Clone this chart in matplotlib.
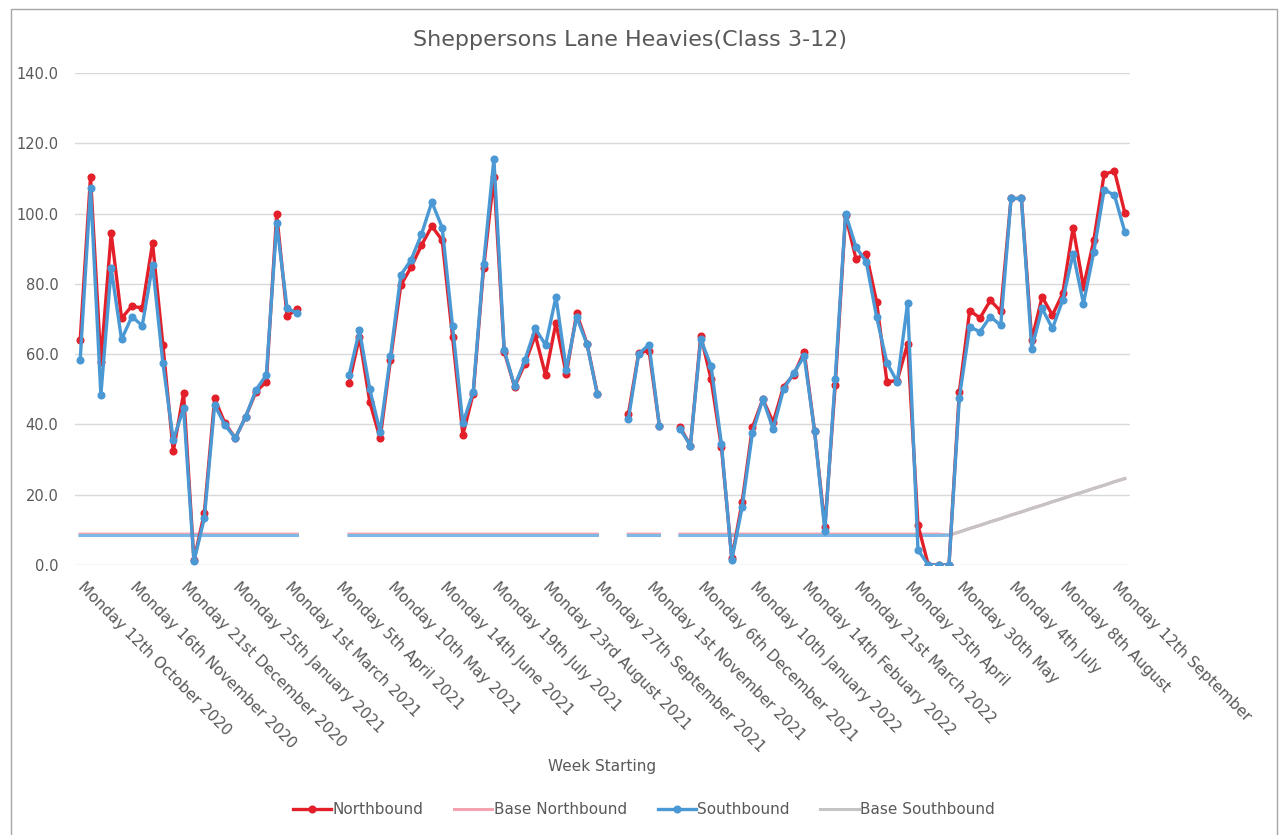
import numpy as np
import matplotlib
matplotlib.use('Agg')
import matplotlib.pyplot as plt
from matplotlib.patches import Rectangle

# weekly categories, week 0 = Monday 12th October 2020, 102 weeks
weeks = np.arange(102)
tick_labels = ['Monday 12th October 2020', 'Monday 16th November 2020', 'Monday 21st December 2020',
               'Monday 25th January 2021', 'Monday 1st March 2021', 'Monday 5th April 2021',
               'Monday 10th May 2021', 'Monday 14th June 2021', 'Monday 19th July 2021',
               'Monday 23rd August 2021', 'Monday 27th September 2021', 'Monday 1st November 2021',
               'Monday 6th December 2021', 'Monday 10th January 2022', 'Monday 14th Febuary 2022',
               'Monday 21st March 2022', 'Monday 25th April', 'Monday 30th May', 'Monday 4th July',
               'Monday 8th August', 'Monday 12th September']

nan = np.nan
# weeks 0-21
north_1 = [64.0, 110.5, 57.9, 94.4, 70.2, 73.7, 73.1, 91.6, 62.6, 32.3, 48.9, 1.3,
           14.7, 47.4, 40.3, 36.1, 42.2, 49.3, 52.2, 99.9, 70.9, 72.8]
south_1 = [58.3, 107.2, 48.4, 84.4, 64.2, 70.7, 68.1, 85.4, 57.4, 35.6, 44.6, 1.0,
           13.3, 45.5, 39.8, 36.1, 42.2, 49.8, 54.1, 97.2, 73.1, 71.6]
# weeks 26-50
north_2 = [51.8, 64.9, 46.4, 36.0, 58.3, 79.6, 84.8, 91.0, 96.4, 92.4, 64.9, 37.0, 48.8,
           84.4, 110.4, 60.7, 50.7, 57.3, 65.4, 54.0, 68.9, 54.3, 71.6, 63.0, 48.8]
south_2 = [54.0, 66.8, 50.0, 37.9, 59.4, 82.5, 86.9, 94.1, 103.3, 96.0, 68.0, 40.3, 49.3,
           85.6, 115.6, 61.1, 50.9, 58.3, 67.3, 62.6, 76.3, 55.6, 70.6, 62.8, 48.6]
# weeks 53-56
north_3 = [42.9, 60.4, 61.0, 39.6]
south_3 = [41.5, 60.1, 62.7, 39.6]
# weeks 58-101
north_4 = [39.2, 34.0, 65.3, 52.8, 33.5, 1.9, 17.9, 39.2, 47.2, 40.6, 50.7, 54.2, 60.7,
           38.2, 10.9, 51.2, 99.5, 87.2, 88.6, 74.9, 52.1, 52.5, 63.0, 11.4, 0.0, 0.0, 0.0,
           49.3, 72.4, 70.3, 75.3, 72.2, 104.3, 104.3, 64.0, 76.3, 71.1, 77.3, 96.0, 79.1,
           92.4, 111.2, 112.1, 100.2]
south_4 = [38.7, 34.0, 64.2, 56.6, 34.4, 1.4, 16.5, 37.7, 47.2, 38.7, 50.0, 54.7, 59.4,
           38.2, 9.6, 53.0, 100.0, 90.5, 86.3, 70.6, 57.5, 52.1, 74.6, 4.3, 0.0, 0.0, 0.0,
           47.6, 67.7, 66.4, 70.7, 68.2, 104.3, 104.3, 61.6, 73.0, 67.3, 75.4, 88.6, 74.4,
           89.1, 106.8, 105.2, 94.8]

# base lines
base_north_flat = 8.8
base_south_flat = 8.4
base_rise = [8.5, 9.4, 10.4, 11.3, 12.3, 13.2, 14.2, 15.1, 16.1, 17.0, 18.0, 18.9,
             19.9, 20.8, 21.8, 22.7, 23.7, 24.6]  # weeks 84-101

gap = [nan] * 4
northbound = np.array(north_1 + gap + north_2 + [nan, nan] + north_3 + [nan] + north_4)
southbound = np.array(south_1 + gap + south_2 + [nan, nan] + south_3 + [nan] + south_4)

have = ~np.isnan(northbound)
base_north = np.where(have, base_north_flat, nan)
base_south = np.where(have, base_south_flat, nan)
base_north[84:] = base_rise
base_south[84:] = base_rise
base_south_flat_part = base_south.copy()
base_south_flat_part[85:] = nan

txt = '#595959'
plt.rcParams['font.family'] = ['DejaVu Sans']

fig = plt.figure(figsize=(12.81, 8.35), dpi=100)
ax = fig.add_axes([75/1281, 1-565/835, 1055/1281, 492/835])

ax.plot(weeks, base_north, color='#F4A3B0', lw=2.2, label='Base Northbound', zorder=2)
ax.plot(weeks, base_south, color='#C4C4C4', lw=2.2, label='Base Southbound', zorder=2)
ax.plot(weeks, base_south_flat_part, color='#7DB8E6', lw=2.2, zorder=2)
ax.plot(weeks, northbound, color='#E3202A', lw=2.4, marker='o', ms=4.8,
        label='Northbound', zorder=3)
ax.plot(weeks, southbound, color='#4A98D4', lw=2.4, marker='o', ms=4.8,
        label='Southbound', zorder=4)

ax.set_xlim(-0.5, 101.5)
ax.set_ylim(0, 140)
ax.set_yticks(np.arange(0, 141, 20))
ax.set_yticklabels(['%.1f' % v for v in np.arange(0, 141, 20)], color=txt, fontsize=10.5)
ax.set_xticks(np.arange(0, 101, 5))
ax.set_xticklabels(tick_labels, rotation=-45, rotation_mode='anchor', ha='left', va='center',
                   color=txt, fontsize=11)
ax.tick_params(axis='both', length=0)
ax.tick_params(axis='x', pad=14)
ax.tick_params(axis='y', pad=12)
ax.grid(axis='y', color='#D9D9D9', lw=1)
ax.set_axisbelow(True)
for s in ax.spines.values():
    s.set_visible(False)

fig.text(630/1281, 1-40/835, 'Sheppersons Lane Heavies(Class 3-12)', color=txt, fontsize=16,
         ha='center', va='center')
fig.text(602/1281, 1-767/835, 'Week Starting', color=txt, fontsize=11, ha='center', va='center')

h, l = ax.get_legend_handles_labels()
order = [2, 0, 3, 1]
fig.legend([h[i] for i in order], [l[i] for i in order], loc='center', ncol=4,
           bbox_to_anchor=(644/1281, 1-810/835), frameon=False, fontsize=11,
           labelcolor=txt, handlelength=2.5, columnspacing=2.0, handletextpad=0.1)

fig.patches.append(Rectangle((11/1281, -0.01), 1266/1281, 1-9/835+0.01, transform=fig.transFigure,
                             fill=False, edgecolor='#A6A6A6', lw=1))

plt.savefig('out.png', dpi=100)
